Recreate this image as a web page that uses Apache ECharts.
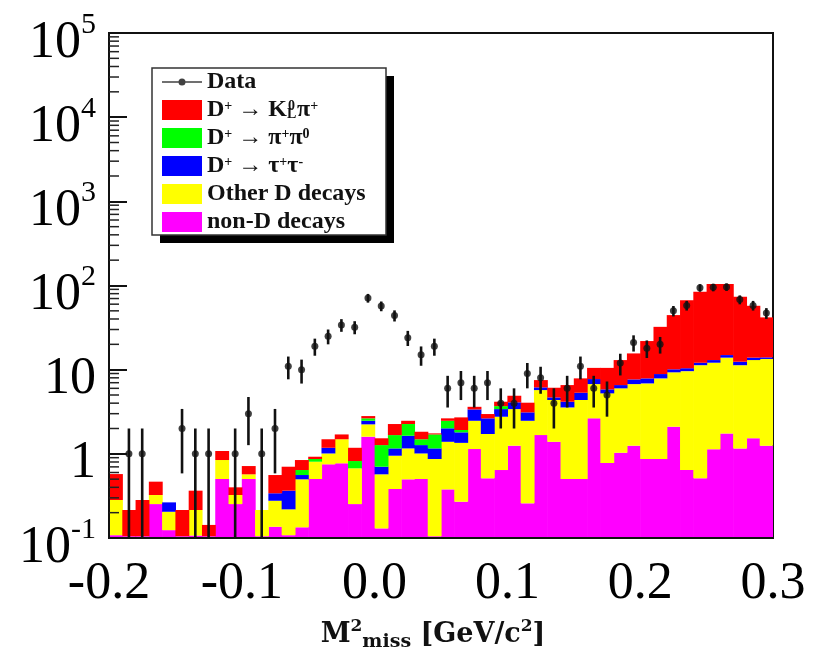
<!DOCTYPE html>
<html><head><meta charset="utf-8">
<script src="https://cdn.jsdelivr.net/npm/echarts@6/dist/echarts.min.js"></script>
<style>html,body{margin:0;padding:0;background:#fff}#c{width:813px;height:648px}</style>
</head><body><div id="c"></div>
<script>
// bin centres of M2miss histogram (GeV^2/c^4), bin width 0.01
const binCenters = [-0.195,-0.185,-0.175,-0.165,-0.155,-0.145,-0.135,-0.125,-0.115,-0.105,
  -0.095,-0.085,-0.075,-0.065,-0.055,-0.045,-0.035,-0.025,-0.015,-0.005,
  0.005,0.015,0.025,0.035,0.045,0.055,0.065,0.075,0.085,0.095,
  0.105,0.115,0.125,0.135,0.145,0.155,0.165,0.175,0.185,0.195,
  0.205,0.215,0.225,0.235,0.245,0.255,0.265,0.275,0.285,0.295];
const binWidth = 0.01;
// stacked MC components (per bin), bottom to top
const nonD = [0.108,0.105,0.105,0.253,0.124,0.105,0.107,0.105,0.502,0.253,
  0.502,0.105,0.136,0.108,0.134,0.502,0.75,0.771,0.253,1.6,
  0.13,0.382,0.498,0.502,0.105,0.378,0.27,1.14,0.512,0.642,
  1.25,0.258,1.67,1.39,0.502,0.502,2.64,0.78,1.03,1.25,
  0.868,0.868,2.1,0.642,0.512,1.13,1.75,1.16,1.53,1.25];
const otherD = [0.175,0,0,0.071,0.081,0,0.108,0,0.342,0.071,
  0.069,0.11,0.141,0.111,0.364,0.304,0.26,0.719,0.42,0.64,
  0.441,0.568,0.662,0.508,0.763,1.012,1.08,1.33,1.208,2.118,
  2.15,2.212,4.05,2.97,3.058,3.858,4.1,4.45,4.97,5.49,
  6.0,7.01,7.2,8.96,10.79,10.97,12.15,10.14,11.47,12.15];
const tauTau = [0,0,0,0,0.06,0,0,0,0,0,
  0,0,0.063,0.146,0.062,0,0.17,0,0,0.23,
  0.132,0.21,0.48,0.26,0.292,0.62,0.45,0.9,0.92,0.64,
  0.69,0.64,0.44,0.32,0.6,0.96,0.99,0.6,0.56,0.92,
  1.01,0.99,0.8,0.8,0.8,0.9,1.0,1.1,0.9,0.6];
const piPi0 = [0,0,0,0,0,0,0,0,0,0,
  0,0,0,0,0.082,0.062,0,0,0.148,0.17,
  0.567,0.51,0.62,0.22,0.54,0.46,0.12,0,0,0.29,
  0,0,0,0,0,0,0,0,0,0,
  0,0,0,0,0,0,0,0,0,0];
const kLPi = [0.292,0.11,0.178,0.143,0,0.11,0.15,0.038,0.236,0.076,
  0.145,0,0.22,0.338,0.202,0.056,0.31,0.21,0.359,0.17,
  0.26,0.59,0.21,0.34,0.05,0.17,0.79,0.25,0.33,0.47,
  0.81,0.94,1.36,1.42,2.4,2.56,2.77,4.67,6.44,7.94,
  14.0,23.4,34.4,56.6,71.9,91,89.1,61.1,43.5,27.8];
// data counts per bin
const dataCounts = [0,1,1,0,0,2,1,1,0,1,
  3,1,2,11,10,19,25,34,32,71,
  57,44,24,15,19,6,7,6,7,4,
  4,9,8,4,6,11,6,5,12,21,
  18,20,50,58,94,95,96,68,58,47];
const yTicksMinor = [];
for (let k = -1; k <= 4; k++) for (let m = 2; m <= 9; m++) yTicksMinor.push(m * Math.pow(10, k));

const yMin = 0.1, yMax = 1e5;
const names = {
  data: 'Data', kl: 'KLpi', pp: 'pipi0', tt: 'tautau', oth: 'OtherD', non: 'nonD'
};
const comps = [
  {key: 'non', vals: nonD, color: '#ff00ff'},
  {key: 'oth', vals: otherD, color: '#ffff00'},
  {key: 'tt', vals: tauTau, color: '#0000ff'},
  {key: 'pp', vals: piPi0, color: '#00ff00'},
  {key: 'kl', vals: kLPi, color: '#ff0000'}
];
const cum = binCenters.map(() => yMin);
const first = binCenters.map(() => true);
function rectItem(params, api) {
  const lo = api.value(0), hi = api.value(1), y0 = api.value(2), y1 = api.value(3);
  if (!(y1 > y0)) return;
  const a = api.coord([lo, y1]), b = api.coord([hi, y0]);
  return {type: 'rect', shape: {x: a[0], y: a[1], width: b[0] - a[0] + 0.6, height: b[1] - a[1]},
    style: {fill: api.visual('color')}};
}
const series = [];
comps.forEach(c => {
  const d = binCenters.map((x, i) => {
    const base = cum[i];
    const top = first[i] ? c.vals[i] : base + c.vals[i];
    first[i] = false;
    cum[i] = Math.max(top, base);
    return [x - binWidth / 2, x + binWidth / 2, base, cum[i]];
  });
  series.push({type: 'custom', name: names[c.key], renderItem: rectItem, data: d, clip: true,
    itemStyle: {color: c.color}, encode: {x: [0, 1], y: [2, 3]}, z: 2, silent: true});
});
// error bars
const errData = [], ptData = [];
binCenters.forEach((x, i) => {
  const n = dataCounts[i];
  if (n > 0) {
    const s = Math.sqrt(n);
    errData.push([x, Math.max(n - s, yMin), n + s]);
    ptData.push([x, n]);
  }
});
series.push({type: 'custom', name: 'err', data: errData, clip: true, z: 19, silent: true,
  encode: {x: 0, y: [1, 2]},
  renderItem: (p, api) => {
    const a = api.coord([api.value(0), api.value(1)]), b = api.coord([api.value(0), api.value(2)]);
    return {type: 'line', shape: {x1: a[0], y1: a[1], x2: b[0], y2: b[1]}, style: {stroke: '#111', lineWidth: 2.6}};
  }});
series.push({type: 'scatter', name: names.data, data: ptData, symbol: 'circle', symbolSize: 7,
  itemStyle: {color: '#111'}, z: 20, silent: true});
// y minor ticks (log decades 2..9)
series.push({type: 'custom', name: 'minor', data: yTicksMinor.map(v => [v]), z: 30, silent: true, clip: false,
  encode: {y: 0},
  renderItem: (p, api) => {
    const a = api.coord([-0.2, api.value(0)]);
    return {type: 'line', shape: {x1: a[0], y1: a[1], x2: a[0] + 10, y2: a[1]}, style: {stroke: '#222', lineWidth: 1.5}};
  }});

const serif = 'Liberation Serif';
const wide = 'DejaVu Serif';
const legRich = {
  b: {fontFamily: serif, fontWeight: 'bold', fontSize: 24, lineHeight: 22, color: '#111'},
  sp: {fontFamily: serif, fontWeight: 'bold', fontSize: 14, lineHeight: 14, verticalAlign: 'top', color: '#111'},
  sb: {fontFamily: serif, fontWeight: 'bold', fontSize: 14, lineHeight: 14, verticalAlign: 'bottom', color: '#111', width: 1, align: 'left'},
  sp0: {fontFamily: serif, fontWeight: 'bold', fontSize: 14, lineHeight: 14, verticalAlign: 'top', color: '#111', width: 9, align: 'left'}
};
const legText = {
  Data: '{b|Data}',
  KLpi: '{b|D}{sp|+}{b| \u2192 K}{sb|L}{sp0|0}{b|\u03c0}{sp|+}',
  pipi0: '{b|D}{sp|+}{b| \u2192 \u03c0}{sp|+}{b|\u03c0}{sp|0}',
  tautau: '{b|D}{sp|+}{b| \u2192 \u03c4}{sp|+}{b|\u03c4}{sp|-}',
  OtherD: '{b|Other D decays}',
  nonD: '{b|non-D decays}'
};
const dataIcon = 'path://M0,0L0.01,0Z M0,20L0.01,20Z M0,9.2H40V10.8H0Z M16.5,10A3.5,3.5 0 1 1 23.5,10A3.5,3.5 0 1 1 16.5,10Z';

const chart = echarts.init(document.getElementById('c'), null, {renderer: 'canvas'});
chart.setOption({
  animation: false,
  backgroundColor: '#fff',
  grid: {left: 109, right: 40, top: 33, bottom: 110, containLabel: false, outerBoundsMode: 'none',
    show: true, borderColor: '#111', borderWidth: 2, backgroundColor: 'transparent'},
  graphic: [
    {type: 'rect', z: 50, silent: true, shape: {x: 160, y: 76, width: 234, height: 167}, style: {fill: '#000'}},
    {type: 'rect', z: 51, silent: true, shape: {x: 152, y: 68, width: 234, height: 167}, style: {fill: '#fff', stroke: '#333', lineWidth: 1.5}}
  ],
  legend: {
    z: 60, zlevel: 0,
    left: 152, top: 68, orient: 'vertical', itemWidth: 40, itemHeight: 20, itemGap: 4,
    padding: [2, 20, 3, 10],
    selectedMode: false,
    data: [
      {name: 'Data', icon: dataIcon, itemStyle: {color: '#111'}},
      {name: 'KLpi', icon: 'rect'}, {name: 'pipi0', icon: 'rect'}, {name: 'tautau', icon: 'rect'},
      {name: 'OtherD', icon: 'rect'}, {name: 'nonD', icon: 'rect'}
    ],
    formatter: n => legText[n],
    textStyle: {rich: legRich}
  },
  xAxis: {
    type: 'value', min: -0.2, max: 0.3, interval: 0.1, z: 10,
    axisLine: {show: true, onZero: false, lineStyle: {color: '#111', width: 2}},
    axisTick: {show: false}, splitLine: {show: false},
    axisLabel: {fontFamily: serif, fontSize: 52, color: '#000', margin: 20,
      formatter: v => Math.abs(v) < 1e-9 ? '0.0' : v.toFixed(1)},
    name: '{t|M}{sp|2}{sb|miss}{t| [GeV/c}{sp|2}{t|]}', nameLocation: 'middle', nameGap: 80,
    nameTextStyle: {padding: [0, 16, 0, 0], rich: {
      t: {fontFamily: wide, fontWeight: 'bold', fontSize: 27, lineHeight: 34, color: '#111'},
      sp: {fontFamily: wide, fontWeight: 'bold', fontSize: 17, lineHeight: 17, verticalAlign: 'top', color: '#111'},
      sb: {fontFamily: wide, fontWeight: 'bold', fontSize: 19, lineHeight: 19, verticalAlign: 'bottom', color: '#111'}
    }}
  },
  yAxis: {
    type: 'log', logBase: 10, min: yMin, max: yMax, splitNumber: 6, z: 10,
    axisLine: {show: true, onZero: false, lineStyle: {color: '#111', width: 2}},
    axisTick: {show: true, inside: true, length: 18, lineStyle: {color: '#111', width: 2}},
    splitLine: {show: false},
    axisLabel: {margin: 13, padding: [20, 0, 0, 0],
      formatter: v => {
        const e = Math.round(Math.log10(v));
        if (e === 0) return '{m|1}';
        if (e === 1) return '{m|10}';
        return '{m|10}{s|' + e + '}';
      },
      rich: {
        m: {fontFamily: serif, fontSize: 52, lineHeight: 66, color: '#000'},
        s: {fontFamily: serif, fontSize: 30, lineHeight: 30, verticalAlign: 'top', color: '#000'}
      }
    }
  },
  series: series
});
</script>
</body></html>
